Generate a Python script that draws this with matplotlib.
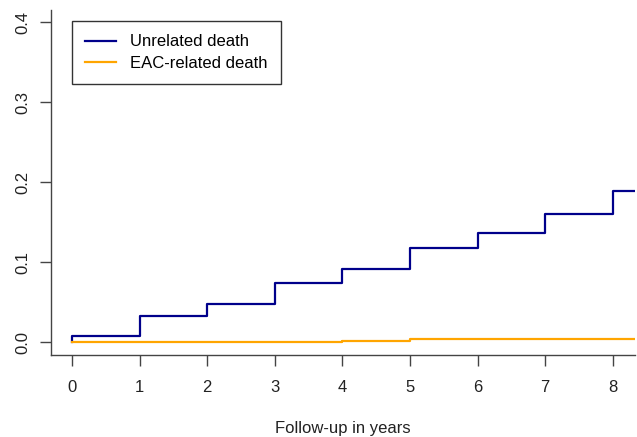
import matplotlib.pyplot as plt

plt.rcParams['font.family'] = ['Liberation Sans', 'DejaVu Sans']

# step times (years) and cumulative incidence
times = [0, 1, 2, 3, 4, 5, 6, 7, 8, 8.33]
unrelated = [0.008, 0.032, 0.047, 0.074, 0.091, 0.118, 0.136, 0.160, 0.189, 0.189]
eac_related = [0.0, 0.0, 0.0005, 0.0005, 0.0015, 0.004, 0.004, 0.004, 0.004, 0.004]

x_ticks = [0, 1, 2, 3, 4, 5, 6, 7, 8]
y_ticks = [0.0, 0.1, 0.2, 0.3, 0.4]

fig = plt.figure(figsize=(6.37, 4.37), dpi=100)
ax = fig.add_axes([0.080, 0.188, 0.917, 0.789])

ax.step([0] + times, [0] + unrelated, where='post', color='#00008B', lw=1.6,
        label='Unrelated death')
ax.step([0] + times, [0] + eac_related, where='post', color='#FFA500', lw=1.6,
        label='EAC-related death')

ax.set_xlim(-0.31, 8.33)
ax.set_ylim(-0.016, 0.415)
ax.set_xticks(x_ticks)
ax.set_yticks(y_ticks)
ax.set_xticklabels([str(t) for t in x_ticks])
ax.set_yticklabels(['%.1f' % t for t in y_ticks], rotation=90, va='center')

for side in ['top', 'right']:
    ax.spines[side].set_visible(False)
for side in ['left', 'bottom']:
    ax.spines[side].set_color('#444444')
    ax.spines[side].set_linewidth(1.0)

ax.tick_params(axis='both', length=8, width=1.0, color='#444444',
               labelsize=12, labelcolor='#222222')
ax.tick_params(axis='x', pad=10)
ax.tick_params(axis='y', pad=7)
ax.set_xlabel('Follow-up in years', fontsize=12, color='#222222', labelpad=19)

leg = ax.legend(loc='upper left', bbox_to_anchor=(0.036, 0.968), borderaxespad=0,
                fontsize=12, frameon=True, fancybox=False, handlelength=1.85,
                handletextpad=0.85, borderpad=0.8, labelspacing=0.4)
leg.get_frame().set_edgecolor('black')
leg.get_frame().set_linewidth(1.0)

fig.savefig('out.png', dpi=100)
